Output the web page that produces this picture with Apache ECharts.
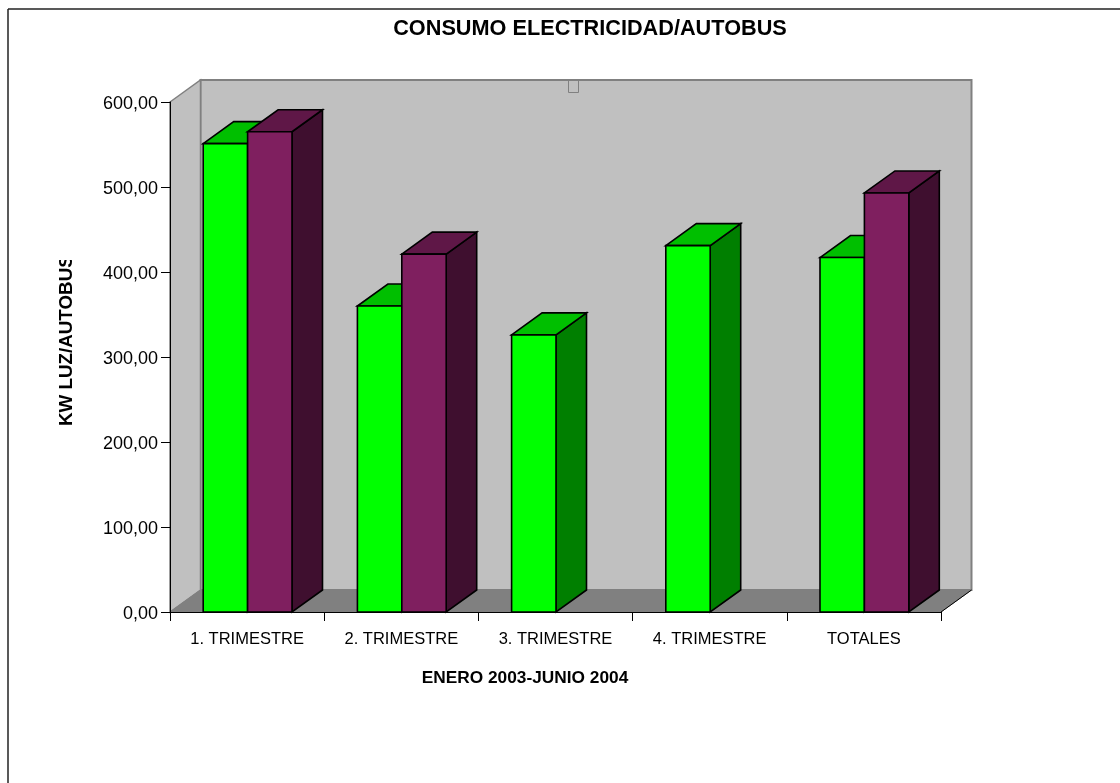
<!DOCTYPE html>
<html>
<head>
<meta charset="utf-8">
<style>html,body{margin:0;padding:0;background:#fff}#c{width:1120px;height:783px}</style>
<script src="https://cdn.jsdelivr.net/npm/echarts@6/dist/echarts.min.js"></script>
</head>
<body>
<div id="c"></div>
<script>
var categories = ['1. TRIMESTRE', '2. TRIMESTRE', '3. TRIMESTRE', '4. TRIMESTRE', 'TOTALES'];
var greenValues = [551, 360, 326, 431, 417];
var purpleValues = [565, 421, null, null, 493];
var axisMin = 0;
var axisMax = 600;
var axisStep = 100;
var titleText = 'CONSUMO ELECTRICIDAD/AUTOBUS';
var xTitleText = 'ENERO 2003-JUNIO 2004';
var yTitleText = 'KW LUZ/AUTOBUS';

var FONT = '"Liberation Sans", Arial, sans-serif';
var DX = 30.5, DY = -22;
var BAR_W = 44.4, BAR_GAP = 33.2;

function renderBackdrop(params, api) {
  var c = params.coordSys;
  var l = c.x, r = c.x + c.width, t = c.y, b = c.y + c.height;
  return { type: 'group', children: [
    { type: 'rect', shape: { x: l + DX, y: t + DY, width: c.width, height: c.height },
      style: { fill: '#c0c0c0', stroke: '#808080', lineWidth: 2 } },
    { type: 'polygon', shape: { points: [[l, t], [l + DX, t + DY], [l + DX, b + DY], [l, b]] },
      style: { fill: '#c0c0c0', stroke: '#808080', lineWidth: 1.5 } },
    { type: 'polygon', shape: { points: [[l, b], [l + DX, b + DY], [r + DX, b + DY], [r, b]] },
      style: { fill: '#808080', stroke: '#808080', lineWidth: 1 } },
    { type: 'line', shape: { x1: r, y1: b, x2: r + DX, y2: b + DY },
      style: { stroke: '#000', lineWidth: 1 } }
  ]};
}

function makeBars(slot, front, top, side) {
  return function (params, api) {
    var v = api.value(1);
    if (v == null || isNaN(v)) return null;
    var cat = api.value(0);
    var band = api.size([1, 0])[0];
    var center = api.coord([cat, v]);
    var base = api.coord([cat, 0]);
    var x0 = center[0] - band / 2 + BAR_GAP + slot * BAR_W;
    var x1 = x0 + BAR_W, y0 = center[1], y1 = base[1];
    var ls = { stroke: '#000', lineWidth: 1.6, lineJoin: 'miter' };
    return { type: 'group', children: [
      { type: 'polygon', shape: { points: [[x1, y0], [x1 + DX, y0 + DY], [x1 + DX, y1 + DY], [x1, y1]] },
        style: Object.assign({ fill: side }, ls) },
      { type: 'polygon', shape: { points: [[x0, y0], [x0 + DX, y0 + DY], [x1 + DX, y0 + DY], [x1, y0]] },
        style: Object.assign({ fill: top }, ls) },
      { type: 'rect', shape: { x: x0, y: y0, width: BAR_W, height: y1 - y0 },
        style: Object.assign({ fill: front }, ls) }
    ]};
  };
}

function toData(arr) {
  return arr.map(function (v, i) { return [i, v]; });
}

var chart = echarts.init(document.getElementById('c'), null, { renderer: 'canvas' });
chart.setOption({
  animation: false,
  backgroundColor: '#fff',
  tooltip: { show: false },
  grid: { left: 170, right: 179, top: 102, bottom: 171, containLabel: false },
  xAxis: {
    type: 'category', data: categories, z: 5,
    axisLine: { lineStyle: { color: '#000', width: 1 } },
    axisTick: { show: true, length: 9, lineStyle: { color: '#000', width: 1 } },
    axisLabel: { margin: 19, fontFamily: FONT, fontSize: 16.5, color: '#000', interval: 0 },
    splitLine: { show: false }
  },
  yAxis: {
    type: 'value', min: axisMin, max: axisMax, interval: axisStep, z: 5,
    axisLine: { show: true, lineStyle: { color: '#000', width: 1 } },
    axisTick: { show: true, length: 9, lineStyle: { color: '#000', width: 1 } },
    axisLabel: {
      margin: 12, fontFamily: FONT, fontSize: 18, color: '#000', lineHeight: 4, verticalAlign: 'top',
      formatter: function (v) { return v.toFixed(2).replace('.', ','); }
    },
    splitLine: { show: false }
  },
  graphic: { elements: [
    { type: 'text', x: 590, y: 29, z: 20,
      style: { text: titleText, fill: '#000', font: 'bold 21.7px ' + FONT, textAlign: 'center', textVerticalAlign: 'middle' } },
    { type: 'text', x: 67, y: 426, rotation: Math.PI / 2, z: 20,
      style: { text: yTitleText, fill: '#000', font: 'bold 18.8px ' + FONT, textAlign: 'left', textVerticalAlign: 'middle' } },
    { type: 'rect', shape: { x: 50, y: 235, width: 35, height: 25 }, z: 21, style: { fill: '#fff' } },
    { type: 'text', x: 525, y: 678.5, z: 20,
      style: { text: xTitleText, fill: '#000', font: 'bold 17.3px ' + FONT, textAlign: 'center', textVerticalAlign: 'middle' } },
    { type: 'rect', shape: { x: 568.5, y: 79.5, width: 10, height: 13 }, z: 20,
      style: { fill: 'transparent', stroke: '#808080', lineWidth: 1 } },
    { type: 'line', shape: { x1: 8, y1: 9, x2: 8, y2: 783 }, z: 20, style: { stroke: '#222', lineWidth: 1.5 } },
    { type: 'line', shape: { x1: 8, y1: 9, x2: 1120, y2: 9 }, z: 20, style: { stroke: '#222', lineWidth: 1.5 } }
  ]},
  series: [
    { type: 'custom', coordinateSystem: 'cartesian2d', z: 1, silent: true, clip: false,
      data: [[0, axisMax]], encode: { x: 0, y: 1 }, renderItem: renderBackdrop },
    { type: 'custom', name: 'A', coordinateSystem: 'cartesian2d', z: 2, silent: true, clip: false,
      data: toData(greenValues), encode: { x: 0, y: 1 },
      renderItem: makeBars(0, '#00ff00', '#00bf00', '#007f00') },
    { type: 'custom', name: 'B', coordinateSystem: 'cartesian2d', z: 3, silent: true, clip: false,
      data: toData(purpleValues), encode: { x: 0, y: 1 },
      renderItem: makeBars(1, '#7f1f5f', '#5f1747', '#3f0f2f') }
  ]
});
</script>
</body>
</html>
